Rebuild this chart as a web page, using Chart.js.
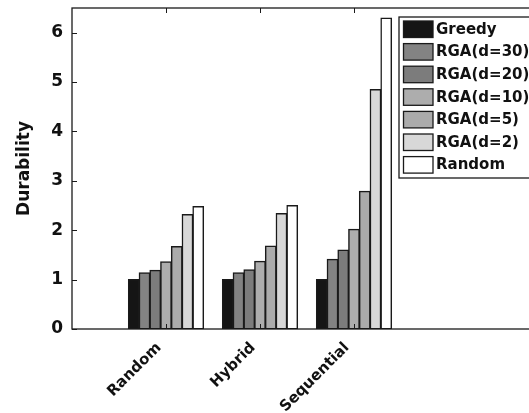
<!DOCTYPE html>
<html>
<head>
<meta charset="utf-8">
<script src="https://cdn.jsdelivr.net/npm/chart.js@4/dist/chart.umd.min.js"></script>
<style>
html,body{margin:0;padding:0;background:#fff;overflow:hidden;}
canvas{display:block;}
</style>
</head>
<body>
<canvas id="c" width="545" height="413"></canvas>
<script>
// ---- data ----
const categories = ['Random', 'Hybrid', 'Sequential'];
const seriesNames = ['Greedy', 'RGA(d=30)', 'RGA(d=20)', 'RGA(d=10)', 'RGA(d=5)', 'RGA(d=2)', 'Random'];
const greedy = [1.00, 1.00, 1.00];
const rga30  = [1.14, 1.14, 1.41];
const rga20  = [1.19, 1.20, 1.60];
const rga10  = [1.36, 1.37, 2.02];
const rga5   = [1.67, 1.68, 2.79];
const rga2   = [2.32, 2.34, 4.85];
const random = [2.48, 2.50, 6.30];
const yTickValues = [0, 1, 2, 3, 4, 5, 6];

const seriesValues = [greedy, rga30, rga20, rga10, rga5, rga2, random];
const fills = ['#151515', '#838383', '#7c7c7c', '#adadad', '#ababab', '#d8d8d8', '#ffffff'];

// pad categories so axis spans 0..5 like the original (x-limits 0..5)
const labels = ['', ...categories, '', ''];
const pad = arr => [null, ...arr, null, null];

const FONT = '"DejaVu Sans", sans-serif';
const INK = '#1a1a1a';

const framePlugin = {
  id: 'frame',
  afterDraw(chart) {
    const {ctx, chartArea: a, scales: {x, y}} = chart;
    ctx.save();
    ctx.strokeStyle = INK;
    ctx.lineWidth = 1.3;
    ctx.strokeRect(a.left, a.top, a.right - a.left, a.bottom - a.top);
    const line = (x1, y1, x2, y2) => { ctx.beginPath(); ctx.moveTo(x1, y1); ctx.lineTo(x2, y2); ctx.stroke(); };
    ctx.lineWidth = 1;
    yTickValues.forEach(v => {
      const py = Math.round(y.getPixelForValue(v)) + 0.5;
      line(a.left, py, a.left + 5, py);
      line(a.right, py, a.right - 5, py);
    });
    categories.forEach((c, i) => {
      const px = Math.round(x.getPixelForValue(i + 1)) + 0.5;
      line(px, a.top, px, a.top + 5);
      line(px, a.bottom, px, a.bottom - 5);
    });
    // legend box
    const lx = 399, ly = 17, lh = 161;
    ctx.fillStyle = '#fff';
    ctx.fillRect(lx, ly, 200, lh);
    ctx.lineWidth = 1.3;
    ctx.strokeStyle = INK;
    ctx.strokeRect(lx, ly, 200, lh);
    ctx.font = 'bold 15px ' + FONT;
    ctx.textBaseline = 'middle';
    ctx.textAlign = 'left';
    chart.data.datasets.forEach((ds, i) => {
      const sy = 21 + i * 22.6;
      ctx.fillStyle = ds.backgroundColor;
      ctx.fillRect(403.5, sy, 29.5, 16.5);
      ctx.lineWidth = 1.3;
      ctx.strokeStyle = INK;
      ctx.strokeRect(403.5, sy, 29.5, 16.5);
      ctx.fillStyle = '#111';
      ctx.fillText(ds.label, 436, sy + 9);
    });
    ctx.restore();
  }
};

new Chart(document.getElementById('c'), {
  type: 'bar',
  data: {
    labels: labels,
    datasets: seriesNames.map((name, i) => ({
      label: name,
      data: pad(seriesValues[i]),
      backgroundColor: fills[i],
      borderColor: INK,
      borderWidth: 1.5,
      borderSkipped: false,
      inflateAmount: 0.5,
      categoryPercentage: 0.8,
      barPercentage: 1.0
    }))
  },
  options: {
    responsive: false,
    devicePixelRatio: 1,
    animation: false,
    layout: { padding: { left: 0, top: 8, right: 3, bottom: 0 } },
    plugins: { legend: { display: false }, tooltip: { enabled: false } },
    scales: {
      x: {
        type: 'category',
        offset: false,
        grid: { display: false, drawTicks: false, offset: false },
        border: { display: false },
        ticks: {
          autoSkip: false,
          minRotation: 45,
          maxRotation: 45,
          padding: 10,
          labelOffset: -7,
          color: '#111',
          font: { family: FONT, size: 15, weight: 'bold' }
        },
        afterFit(s) { s.height = 84; s.paddingLeft = 0; s.paddingRight = 0; }
      },
      y: {
        min: 0,
        max: 6.5,
        grid: { display: false, drawTicks: false },
        border: { display: false },
        ticks: {
          stepSize: 1,
          includeBounds: false,
          padding: 9,
          color: '#111',
          font: { family: FONT, size: 17, weight: 'bold' }
        },
        title: {
          display: true,
          text: 'Durability',
          color: '#111',
          padding: { top: 14, bottom: 0 },
          font: { family: FONT, size: 17, weight: 'bold', lineHeight: 1.2 }
        },
        afterFit(s) { s.width = 72; s.paddingTop = 0; s.paddingBottom = 0; }
      }
    }
  },
  plugins: [framePlugin]
});
</script>
</body>
</html>
